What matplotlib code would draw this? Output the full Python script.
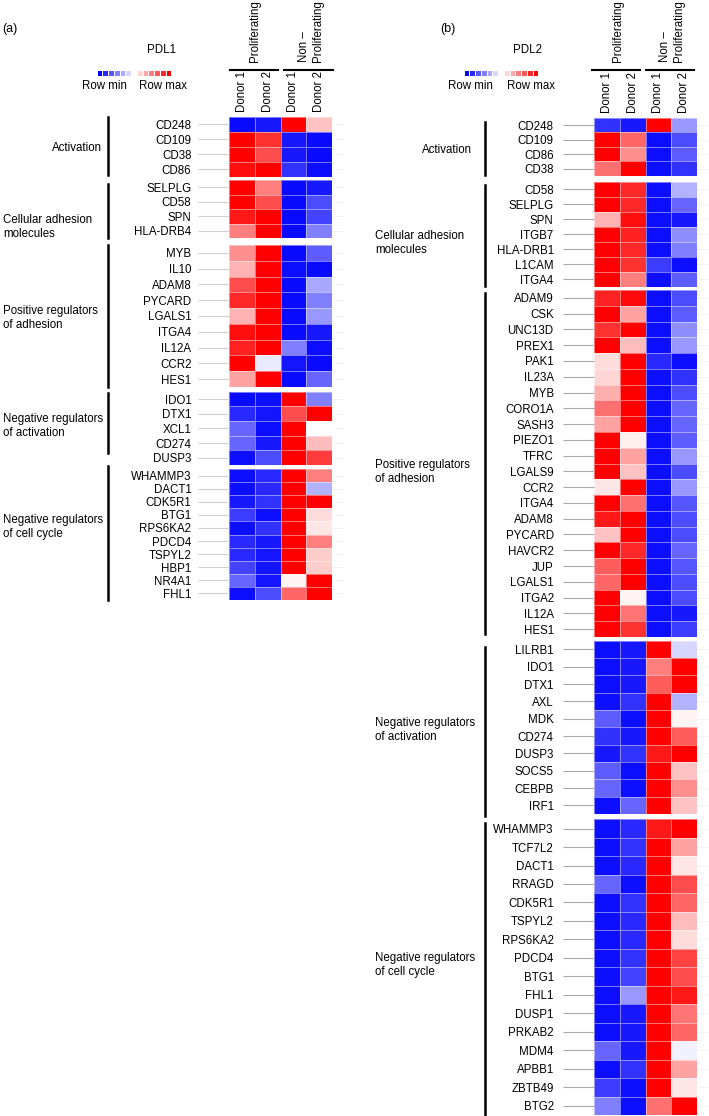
import numpy as np
import matplotlib
matplotlib.use("Agg")
import matplotlib.pyplot as plt
from matplotlib.colors import LinearSegmentedColormap
from matplotlib.lines import Line2D

plt.rcParams['font.family'] = ['Liberation Sans', 'DejaVu Sans']

# -------------------------------------------------------
# Data (0 = row min / blue, 0.5 = white, 1 = row max / red)
# -------------------------------------------------------

columns = ["Donor 1", "Donor 2", "Donor 1", "Donor 2"]
legend_scale = [0.0, 0.08, 0.17, 0.25, 0.33, 0.42, 0.5, 0.58, 0.67, 0.75, 0.83, 0.92, 1.0]

group_names = ["Activation", "Cellular adhesion\nmolecules", "Positive regulators\nof adhesion",
               "Negative regulators\nof activation", "Negative regulators\nof cell cycle"]

# PDL1
a_act_genes = ["CD248", "CD109", "CD38", "CD86"]
a_act_vals = [[0.02, 0.05, 1.0, 0.62],
              [1.0, 0.9, 0.05, 0.02],
              [1.0, 0.85, 0.05, 0.02],
              [0.97, 1.0, 0.1, 0.03]]

a_adh_genes = ["SELPLG", "CD58", "SPN", "HLA-DRB4"]
a_adh_vals = [[1.0, 0.75, 0.02, 0.05],
              [1.0, 0.85, 0.02, 0.15],
              [0.95, 1.0, 0.02, 0.13],
              [0.75, 1.0, 0.02, 0.25]]

a_pos_genes = ["MYB", "IL10", "ADAM8", "PYCARD", "LGALS1", "ITGA4", "IL12A", "CCR2", "HES1"]
a_pos_vals = [[0.72, 1.0, 0.02, 0.18],
              [0.65, 1.0, 0.03, 0.02],
              [0.85, 1.0, 0.02, 0.33],
              [0.92, 1.0, 0.02, 0.25],
              [0.65, 1.0, 0.02, 0.3],
              [0.97, 1.0, 0.02, 0.05],
              [0.93, 1.0, 0.25, 0.03],
              [1.0, 0.46, 0.04, 0.02],
              [0.68, 1.0, 0.02, 0.2]]

a_neg_genes = ["IDO1", "DTX1", "XCL1", "CD274", "DUSP3"]
a_neg_vals = [[0.02, 0.03, 1.0, 0.25],
              [0.08, 0.04, 0.85, 1.0],
              [0.2, 0.03, 1.0, 0.5],
              [0.2, 0.05, 1.0, 0.63],
              [0.03, 0.15, 1.0, 0.88]]

a_cyc_genes = ["WHAMMP3", "DACT1", "CDK5R1", "BTG1", "RPS6KA2", "PDCD4", "TSPYL2", "HBP1", "NR4A1", "FHL1"]
a_cyc_vals = [[0.03, 0.08, 1.0, 0.75],
              [0.03, 0.08, 1.0, 0.35],
              [0.05, 0.1, 1.0, 1.0],
              [0.12, 0.03, 1.0, 0.57],
              [0.03, 0.1, 1.0, 0.55],
              [0.08, 0.05, 1.0, 0.75],
              [0.08, 0.04, 1.0, 0.6],
              [0.13, 0.04, 1.0, 0.6],
              [0.2, 0.04, 0.52, 1.0],
              [0.03, 0.15, 0.8, 1.0]]

# PDL2
b_act_genes = ["CD248", "CD109", "CD86", "CD38"]
b_act_vals = [[0.1, 0.05, 1.0, 0.3],
              [1.0, 0.8, 0.03, 0.15],
              [1.0, 0.72, 0.03, 0.18],
              [0.78, 1.0, 0.03, 0.1]]

b_adh_genes = ["CD58", "SELPLG", "SPN", "ITGB7", "HLA-DRB1", "L1CAM", "ITGA4"]
b_adh_vals = [[1.0, 0.92, 0.03, 0.35],
              [1.0, 0.92, 0.03, 0.2],
              [0.65, 0.97, 0.03, 0.05],
              [1.0, 0.93, 0.03, 0.28],
              [1.0, 0.92, 0.03, 0.25],
              [1.0, 0.9, 0.12, 0.03],
              [1.0, 0.75, 0.03, 0.18]]

b_pos_genes = ["ADAM9", "CSK", "UNC13D", "PREX1", "PAK1", "IL23A", "MYB", "CORO1A", "SASH3",
               "PIEZO1", "TFRC", "LGALS9", "CCR2", "ITGA4", "ADAM8", "PYCARD", "HAVCR2", "JUP",
               "LGALS1", "ITGA2", "IL12A", "HES1"]
b_pos_vals = [[0.93, 0.98, 0.03, 0.15],
              [1.0, 0.68, 0.03, 0.18],
              [0.9, 1.0, 0.03, 0.28],
              [1.0, 0.63, 0.03, 0.3],
              [0.57, 1.0, 0.08, 0.03],
              [0.58, 1.0, 0.03, 0.1],
              [0.66, 1.0, 0.03, 0.15],
              [0.78, 1.0, 0.03, 0.2],
              [0.68, 1.0, 0.03, 0.2],
              [1.0, 0.53, 0.03, 0.18],
              [1.0, 0.68, 0.03, 0.3],
              [1.0, 0.62, 0.03, 0.15],
              [0.55, 1.0, 0.03, 0.3],
              [1.0, 0.78, 0.03, 0.17],
              [0.95, 1.0, 0.03, 0.15],
              [0.62, 1.0, 0.03, 0.15],
              [1.0, 0.92, 0.03, 0.2],
              [0.82, 1.0, 0.03, 0.17],
              [0.8, 1.0, 0.03, 0.15],
              [1.0, 0.52, 0.03, 0.15],
              [1.0, 0.77, 0.03, 0.05],
              [1.0, 0.9, 0.03, 0.12]]

b_neg_genes = ["LILRB1", "IDO1", "DTX1", "AXL", "MDK", "CD274", "DUSP3", "SOCS5", "CEBPB", "IRF1"]
b_neg_vals = [[0.03, 0.05, 1.0, 0.42],
              [0.03, 0.05, 0.75, 1.0],
              [0.03, 0.05, 0.82, 1.0],
              [0.03, 0.1, 1.0, 0.35],
              [0.18, 0.03, 1.0, 0.52],
              [0.1, 0.05, 1.0, 0.82],
              [0.05, 0.1, 0.95, 1.0],
              [0.18, 0.03, 1.0, 0.62],
              [0.2, 0.03, 1.0, 0.72],
              [0.03, 0.2, 1.0, 0.62]]

b_cyc_genes = ["WHAMMP3", "TCF7L2", "DACT1", "RRAGD", "CDK5R1", "TSPYL2", "RPS6KA2", "PDCD4",
               "BTG1", "FHL1", "DUSP1", "PRKAB2", "MDM4", "APBB1", "ZBTB49", "BTG2"]
b_cyc_vals = [[0.03, 0.08, 0.95, 1.0],
              [0.03, 0.1, 1.0, 0.68],
              [0.03, 0.08, 1.0, 0.55],
              [0.2, 0.03, 1.0, 0.85],
              [0.03, 0.1, 1.0, 0.8],
              [0.03, 0.08, 1.0, 0.63],
              [0.03, 0.08, 1.0, 0.57],
              [0.03, 0.1, 1.0, 0.87],
              [0.03, 0.13, 1.0, 0.85],
              [0.03, 0.3, 1.0, 0.95],
              [0.03, 0.05, 1.0, 0.77],
              [0.03, 0.05, 1.0, 0.8],
              [0.2, 0.05, 1.0, 0.47],
              [0.03, 0.1, 1.0, 0.68],
              [0.12, 0.03, 1.0, 0.55],
              [0.25, 0.03, 0.78, 1.0]]

# -------------------------------------------------------
# Layout helpers (figure pixels, origin top-left)
# -------------------------------------------------------

W, H = 709, 1116
FS = 8.3
cmap = LinearSegmentedColormap.from_list("rowminmax", ["#0000ff", "#ffffff", "#ff0000"])

fig = plt.figure(figsize=(W / 100, H / 100), dpi=100)


def fx(x):
    return x / W


def fy(y):
    return 1 - y / H


def line(x0, y0, x1, y1, lw=1.8):
    fig.add_artist(Line2D([fx(x0), fx(x1)], [fy(y0), fy(y1)], color="black", lw=lw))


def heat(left, right, top, bottom, genes, vals, tcolor, pad, header=False):
    ax = fig.add_axes([fx(left), fy(bottom), (right - left) / W, (bottom - top) / H])
    ax.pcolormesh(np.array(vals), cmap=cmap, vmin=0, vmax=1,
                  edgecolors=(1, 1, 1, 0.45), linewidth=0.6)
    ax.set_xlim(0, 4)
    ax.set_ylim(len(genes), 0)
    pos = np.arange(len(genes)) + 0.5
    ax.set_yticks(pos)
    ax.set_yticklabels(genes, fontsize=FS)
    ax.tick_params(axis="y", length=22, width=0.8, color=tcolor, pad=pad)
    for s in ax.spines.values():
        s.set_visible(False)
    if header:
        ax.xaxis.tick_top()
        ax.set_xticks(np.arange(4) + 0.5)
        ax.set_xticklabels(columns, rotation=90, fontsize=FS)
        ax.tick_params(axis="x", length=0, pad=3.4)
    else:
        ax.set_xticks([])
    sec = ax.secondary_yaxis("right")
    sec.set_yticks(pos)
    sec.set_yticklabels([])
    sec.tick_params(length=8, width=0.6, color="#f0f0f0")
    sec.spines["right"].set_visible(False)
    return ax


def legend(x0, x1, y0, y1, tx_min, tx_max, ty):
    ax = fig.add_axes([fx(x0), fy(y1), (x1 - x0) / W, (y1 - y0) / H])
    ax.bar(np.arange(len(legend_scale)), 1, width=0.82, color=cmap(np.array(legend_scale)))
    ax.set_xlim(-0.5, len(legend_scale) - 0.5)
    ax.set_ylim(0, 1)
    ax.set_axis_off()
    fig.text(fx(tx_min), fy(ty), "Row min", fontsize=FS, va="center", ha="left")
    fig.text(fx(tx_max), fy(ty), "Row max", fontsize=FS, va="center", ha="left")


def headers(xp, xnp, l1, l2):
    fig.text(fx(xp), fy(62), "Proliferating", rotation=90, fontsize=FS, ha="center", va="bottom")
    fig.text(fx(xnp), fy(62), "Non \u2013\nProliferating", rotation=90, fontsize=FS,
             ha="center", va="bottom", multialignment="left", linespacing=1.3)
    line(l1[0], 70, l1[1], 70, lw=1.5)
    line(l2[0], 70, l2[1], 70, lw=1.5)


# -------------------------------------------------------
# Panel (a) PDL1
# -------------------------------------------------------

fig.text(fx(2), fy(29), "(a)", fontsize=9, va="center", ha="left")
fig.text(fx(161), fy(50), "PDL1", fontsize=FS, va="center", ha="center")
legend(97, 172, 71, 76, 82, 139, 86)
headers(255, 311, (230, 278), (284, 333))

a_sections = [(117, 176.7, a_act_genes, a_act_vals),
              (180, 238, a_adh_genes, a_adh_vals),
              (245, 387, a_pos_genes, a_pos_vals),
              (391.7, 465, a_neg_genes, a_neg_vals),
              (469, 600, a_cyc_genes, a_cyc_vals)]
for i, (t, b, g, v) in enumerate(a_sections):
    heat(229, 332, t, b, g, v, "#cfcfcf", 5, header=(i == 0))

a_brackets = [(117, 175), (184, 238), (245, 387), (393, 453), (466, 600)]
for y0, y1 in a_brackets:
    line(108, y0, 108, y1)

fig.text(fx(102), fy(148), group_names[0], fontsize=FS, ha="right", va="center")
for name, yc in zip(group_names[1:], [227, 318, 426, 527]):
    fig.text(fx(3), fy(yc), name, fontsize=FS, ha="left", va="center", linespacing=1.15)

# -------------------------------------------------------
# Panel (b) PDL2
# -------------------------------------------------------

fig.text(fx(440), fy(29), "(b)", fontsize=9, va="center", ha="left")
fig.text(fx(527), fy(50), "PDL2", fontsize=FS, va="center", ha="center")
legend(464, 539, 71, 76, 448, 507, 86)
headers(618, 672, (592, 640), (646, 694))

b_sections = [(118, 176, b_act_genes, b_act_vals),
              (181.7, 286.7, b_adh_genes, b_adh_vals),
              (290, 637, b_pos_genes, b_pos_vals),
              (640.7, 814, b_neg_genes, b_neg_vals),
              (819.3, 1115, b_cyc_genes, b_cyc_vals)]
for i, (t, b, g, v) in enumerate(b_sections):
    heat(594, 697, t, b, g, v, "#a8a8a8", 7, header=(i == 0))

b_brackets = [(122, 175), (185, 286), (293, 634), (647, 816), (823, 1116)]
for y0, y1 in b_brackets:
    line(485, y0, 485, y1)

fig.text(fx(472), fy(150), group_names[0], fontsize=FS, ha="right", va="center")
for name, yc in zip(group_names[1:], [243, 472, 730, 965]):
    fig.text(fx(375), fy(yc), name, fontsize=FS, ha="left", va="center", linespacing=1.15)

fig.savefig("out.png", dpi=100, facecolor="white")
